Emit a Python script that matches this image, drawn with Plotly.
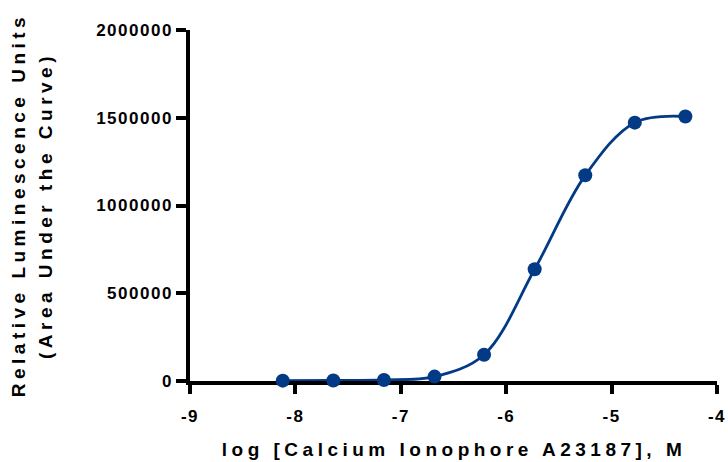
import plotly.graph_objects as go

# Data
log_conc = [-8.12, -7.64, -7.16, -6.68, -6.21, -5.73, -5.25, -4.78, -4.30]
rlu = [2000, 3000, 6000, 25000, 150000, 637000, 1172000, 1472000, 1507000]

x_tickvals = [-9, -8, -7, -6, -5, -4]
x_ticktext = ["-9", "-8", "-7", "-6", "-5", "-4"]
y_tickvals = [0, 500000, 1000000, 1500000, 2000000]
y_ticktext = ["0", "500000", "1000000", "1500000", "2000000"]

x_title = "log [Calcium Ionophore A23187], M"
y_title_1 = "Relative Luminescence Units"
y_title_2 = "(Area Under the Curve)"

BLUE = "#023A86"
FONT = "Liberation Sans, Arial, sans-serif"

fig = go.Figure()
fig.add_trace(go.Scatter(
    x=log_conc, y=rlu, mode="lines+markers",
    line=dict(color=BLUE, width=2.8, shape="spline", smoothing=1.0),
    marker=dict(color=BLUE, size=14),
    cliponaxis=False, showlegend=False,
))

axis_common = dict(
    showline=True, linecolor="black", linewidth=3.5,
    ticks="outside", tickcolor="black", tickwidth=3.5,
    showgrid=False, zeroline=False, layer="below traces", automargin=False,
    tickfont=dict(family=FONT, size=17, color="black", weight="bold"),
)

fig.update_layout(
    width=728, height=462,
    margin=dict(l=190, r=10.5, t=29.5, b=81, autoexpand=False),
    paper_bgcolor="white", plot_bgcolor="white",
    xaxis=dict(range=[-9, -4], tickvals=x_tickvals, ticktext=x_ticktext,
               ticklen=9, ticklabelstandoff=8, **axis_common),
    yaxis=dict(range=[0, 2000000], tickvals=y_tickvals, ticktext=y_ticktext,
               ticklen=10, **axis_common),
    annotations=[
        dict(text=x_title, xref="paper", yref="paper", x=0.5, y=0,
             xanchor="center", yanchor="middle", yshift=-68, showarrow=False,
             font=dict(family=FONT, size=19, color="black", weight="bold")),
        dict(text=y_title_1, xref="paper", yref="paper", x=0, y=0.5,
             xanchor="center", yanchor="middle", xshift=-172, textangle=-90,
             showarrow=False,
             font=dict(family=FONT, size=19, color="black", weight="bold")),
        dict(text=y_title_2, xref="paper", yref="paper", x=0, y=0.5,
             xanchor="center", yanchor="middle", xshift=-145, textangle=-90,
             showarrow=False,
             font=dict(family=FONT, size=19, color="black", weight="bold")),
    ],
)

post = """
var gd = document.getElementById('{plot_id}');
gd.querySelectorAll('.xtick text, .ytick text').forEach(function(t){t.style.letterSpacing='1.5px';});
gd.querySelectorAll('.annotation-text').forEach(function(t){t.style.letterSpacing='4.5px';});
"""

fig.write_html("out.html", post_script=post)
